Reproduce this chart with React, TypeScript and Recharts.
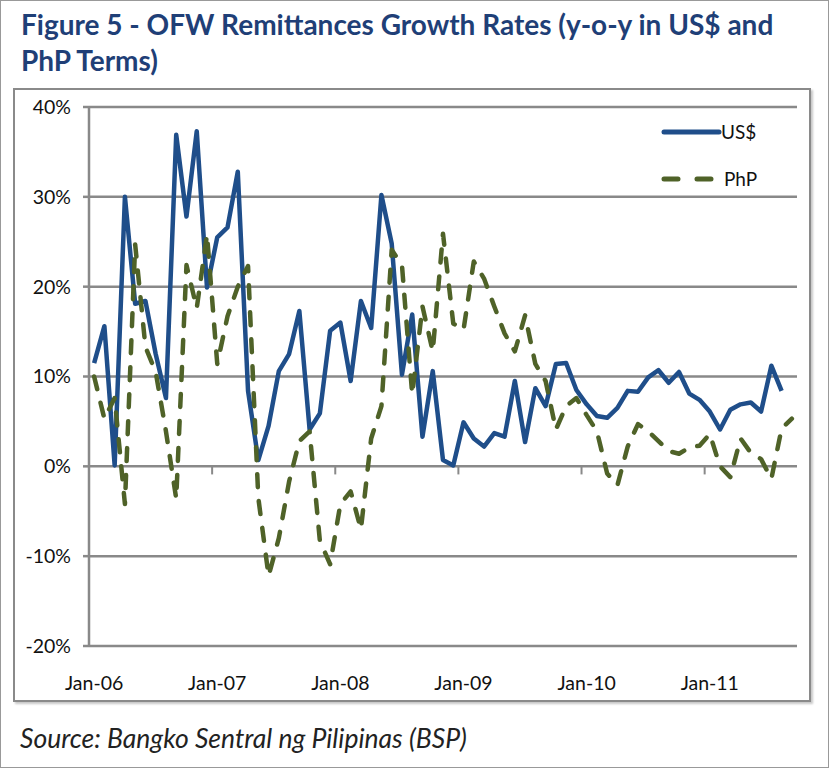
import { LineChart, Line, XAxis, YAxis, CartesianGrid, ReferenceLine } from "recharts";

const MONTHS = ["Jan", "Feb", "Mar", "Apr", "May", "Jun", "Jul", "Aug", "Sep", "Oct", "Nov", "Dec"];
const YEARS = ["06", "07", "08", "09", "10", "11"];
const categories = YEARS.flatMap((y) => MONTHS.map((m) => `${m}-${y}`)).slice(0, 69);

// y-o-y growth, % (US$ terms), Jan-06 .. Aug-11
const usd = [
  11.5, 15.6, 0.1, 30.0, 18.1, 18.4, 12.5, 7.6, 36.9, 27.8, 37.3, 19.9,
  25.5, 26.6, 32.8, 8.4, 0.7, 4.5, 10.6, 12.5, 17.3, 4.1, 5.9, 15.1,
  16.0, 9.5, 18.4, 15.4, 30.2, 24.8, 10.2, 16.9, 3.3, 10.6, 0.7, 0.1,
  4.9, 3.1, 2.2, 3.7, 3.3, 9.5, 2.7, 8.7, 6.7, 11.4, 11.5, 8.5,
  6.9, 5.6, 5.4, 6.5, 8.4, 8.3, 9.9, 10.7, 9.3, 10.5, 8.1, 7.4,
  6.1, 4.1, 6.3, 6.9, 7.1, 6.1, 11.2, 8.4,
];

// y-o-y growth, % (PhP terms), Jan-06 .. Sep-11
const php = [
  10.0, 5.3, 7.6, -4.2, 24.7, 13.3, 10.5, 3.9, -3.6, 22.4, 17.6, 25.8,
  11.4, 16.7, 20.0, 22.3, -3.5, -12.2, -8.0, -1.7, 2.8, 3.9, -8.3, -10.9,
  -4.2, -2.8, -7.0, 3.1, 6.7, 24.1, 22.4, 8.0, 17.8, 12.8, 25.9, 15.9,
  15.2, 22.8, 20.9, 17.8, 14.8, 12.8, 16.8, 11.4, 9.5, 4.1, 6.7, 7.6,
  5.7, 3.9, -0.8, -2.1, 2.2, 4.7, 3.9, 2.8, 1.7, 1.4, 2.1, 2.3,
  3.6, 0.0, -1.2, 3.1, 1.5, 0.8, -1.4, 4.2, 5.3,
];

const yTicks = [-20, -10, 0, 10, 20, 30, 40];
const xTicks = [0, 12, 24, 36, 48, 60];
const yearBreaks = [11.5, 23.5, 35.5, 47.5, 59.5];

const data = categories.map((name, i) => ({
  idx: i,
  name,
  usd: i < usd.length ? usd[i] : null,
  php: i < php.length ? php[i] : null,
}));

const FONT = "Lato, 'Open Sans', sans-serif";
const GRID = "#898989";
const BLUE = "#1F4E8A";
const GREEN = "#4F6228";

function LegendBox() {
  return (
    <svg width={120} height={84} style={{ fontFamily: FONT, fontSize: 19, display: "block", overflow: "visible" }}>
      <line x1={3} y1={20} x2={58} y2={20} stroke={BLUE} strokeWidth={5} strokeLinecap="round" />
      <text x={60} y={27} fill="#111">US$</text>
      <line x1={3} y1={67} x2={56} y2={67} stroke={GREEN} strokeWidth={5} strokeLinecap="round" strokeDasharray="14 19" />
      <text x={63} y={74} fill="#111">PhP</text>
    </svg>
  );
}

export default function App() {
  return (
    <div style={{ position: "absolute", left: 0, top: 0, width: 829, height: 768, background: "#fff", boxSizing: "border-box", border: "1px solid #999", fontFamily: FONT }}>
      <div style={{ position: "absolute", left: 20, top: 5, fontSize: 28, fontWeight: 700, color: "#1F3F77", lineHeight: "36px", whiteSpace: "nowrap" }}>
        Figure 5 - OFW Remittances Growth Rates (y-o-y in US$ and
        <br />
        PhP Terms)
      </div>

      <div style={{ position: "absolute", left: 12, top: 87, width: 798, height: 614, boxSizing: "border-box", border: "2px solid #8a8a8a", boxShadow: "2px 2px 2px #c8c8c8" }} />

      <div style={{ position: "absolute", left: 13, top: 88 }}>
        <LineChart width={796} height={612} data={data} margin={{ top: 18, right: 13, bottom: 0, left: 0 }}>
          <CartesianGrid vertical={false} stroke={GRID} strokeWidth={2.5} />
          <XAxis
            dataKey="idx"
            type="number"
            domain={[-0.5, 68.5]}
            ticks={xTicks}
            tickFormatter={(v) => categories[v]}
            axisLine={false}
            tickLine={false}
            tickSize={0}
            tickMargin={30}
            height={55}
            interval={0}
            tick={{ fill: "#111", fontSize: 19.5, fontFamily: FONT }}
          />
          <YAxis
            domain={[-20, 40]}
            ticks={yTicks}
            tickFormatter={(v) => `${v}%`}
            width={75}
            axisLine={{ stroke: GRID, strokeWidth: 2.5 }}
            tickLine={{ stroke: GRID, strokeWidth: 2.5 }}
            tickSize={6}
            tickMargin={12}
            tick={{ fill: "#111", fontSize: 19.5, fontFamily: FONT }}
          />
          {yearBreaks.map((b) => (
            <ReferenceLine key={b} segment={[{ x: b, y: 0 }, { x: b, y: -0.9 }]} stroke={GRID} strokeWidth={2} />
          ))}
          <Line
            name="US$"
            dataKey="usd"
            stroke={BLUE}
            strokeWidth={4.5}
            dot={false}
            type="linear"
            strokeLinejoin="round"
            isAnimationActive={false}
          />
          <Line
            name="PhP"
            dataKey="php"
            stroke={GREEN}
            strokeWidth={4.5}
            dot={false}
            type="linear"
            strokeLinejoin="round"
            strokeLinecap="round"
            strokeDasharray="13 14"
            isAnimationActive={false}
          />
        </LineChart>
      </div>

      <div style={{ position: "absolute", left: 660, top: 111 }}>
        <LegendBox />
      </div>

      <div style={{ position: "absolute", left: 19, top: 721, fontSize: 26.5, fontStyle: "italic", color: "#222" }}>
        Source: Bangko Sentral ng Pilipinas (BSP)
      </div>
    </div>
  );
}
